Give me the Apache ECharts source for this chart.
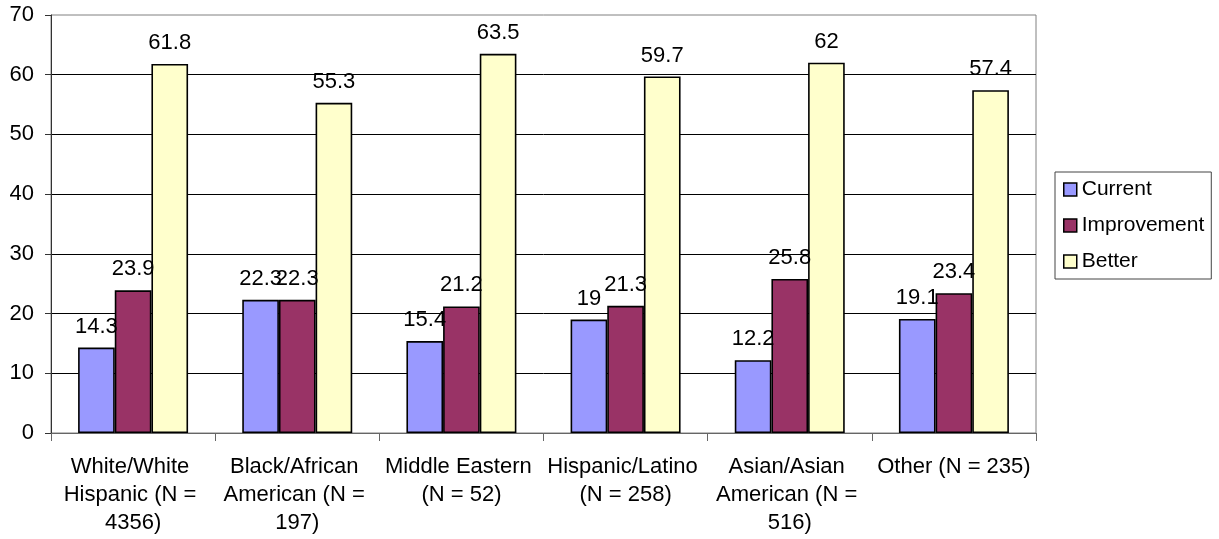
<!DOCTYPE html>
<html>
<head>
<meta charset="utf-8">
<script src="https://cdn.jsdelivr.net/npm/echarts@6/dist/echarts.min.js"></script>
<style>
html,body{margin:0;padding:0;background:#fff;}
#chart{width:1219px;height:539px;}
</style>
</head>
<body>
<div id="chart"></div>
<script>
var categories = ['White/White Hispanic (N = 4356)', 'Black/African American (N = 197)', 'Middle Eastern (N = 52)', 'Hispanic/Latino (N = 258)', 'Asian/Asian American (N = 516)', 'Other (N = 235)'];
var seriesNames = ['Current', 'Improvement', 'Better'];
var currentValues = [14.3, 22.3, 15.4, 19, 12.2, 19.1];
var improvementValues = [23.9, 22.3, 21.2, 21.3, 25.8, 23.4];
var betterValues = [61.8, 55.3, 63.5, 59.7, 62, 57.4];
var yTicks = [0, 10, 20, 30, 40, 50, 60, 70];

var colors = ['#9999FF', '#993366', '#FFFFCC'];
var font = 'Liberation Sans, Arial, sans-serif';

function mk(name, data, color) {
  return {
    name: name,
    type: 'bar',
    data: data,
    barGap: '0%',
    barCategoryGap: '33%',
    itemStyle: { color: color, borderColor: '#000', borderWidth: 1.6 },
    label: {
      show: true, position: 'top', distance: 10,
      color: '#000', fontSize: 22, fontFamily: font
    }
  };
}

var chart = echarts.init(document.getElementById('chart'), null, { renderer: 'canvas' });
chart.setOption({
  animation: false,
  backgroundColor: '#fff',
  grid: {
    left: 51, right: 183, top: 15, bottom: 106,
    show: true, borderColor: '#808080', borderWidth: 1, backgroundColor: 'transparent'
  },
  legend: {
    orient: 'vertical',
    left: 1055, top: 172,
    padding: [7, 7, 7, 8],
    itemGap: 15,
    itemWidth: 13, itemHeight: 13,
    icon: 'rect',
    borderColor: '#444', borderWidth: 1,
    textStyle: { color: '#000', fontSize: 21, fontFamily: font },
    itemStyle: { borderColor: '#000', borderWidth: 1.5 },
    data: seriesNames
  },
  xAxis: {
    type: 'category',
    data: categories,
    axisLine: { show: true, lineStyle: { color: '#666', width: 1 } },
    axisTick: { show: true, length: 8, lineStyle: { color: '#666' } },
    axisLabel: {
      interval: 0, color: '#000', fontSize: 22, fontFamily: font,
      width: 160, overflow: 'break', lineHeight: 28, margin: 20
    },
    splitLine: { show: false }
  },
  yAxis: {
    type: 'value',
    min: yTicks[0], max: yTicks[yTicks.length - 1], interval: 10,
    axisLine: { show: true, lineStyle: { color: '#333', width: 1 } },
    axisTick: { show: true, length: 6, lineStyle: { color: '#333' } },
    axisLabel: { color: '#000', fontSize: 22, fontFamily: font, margin: 17 },
    splitLine: { show: true, showMinLine: false, showMaxLine: false, lineStyle: { color: '#000', width: 1 } }
  },
  series: [
    mk(seriesNames[0], currentValues, colors[0]),
    mk(seriesNames[1], improvementValues, colors[1]),
    mk(seriesNames[2], betterValues, colors[2])
  ]
});
</script>
</body>
</html>
